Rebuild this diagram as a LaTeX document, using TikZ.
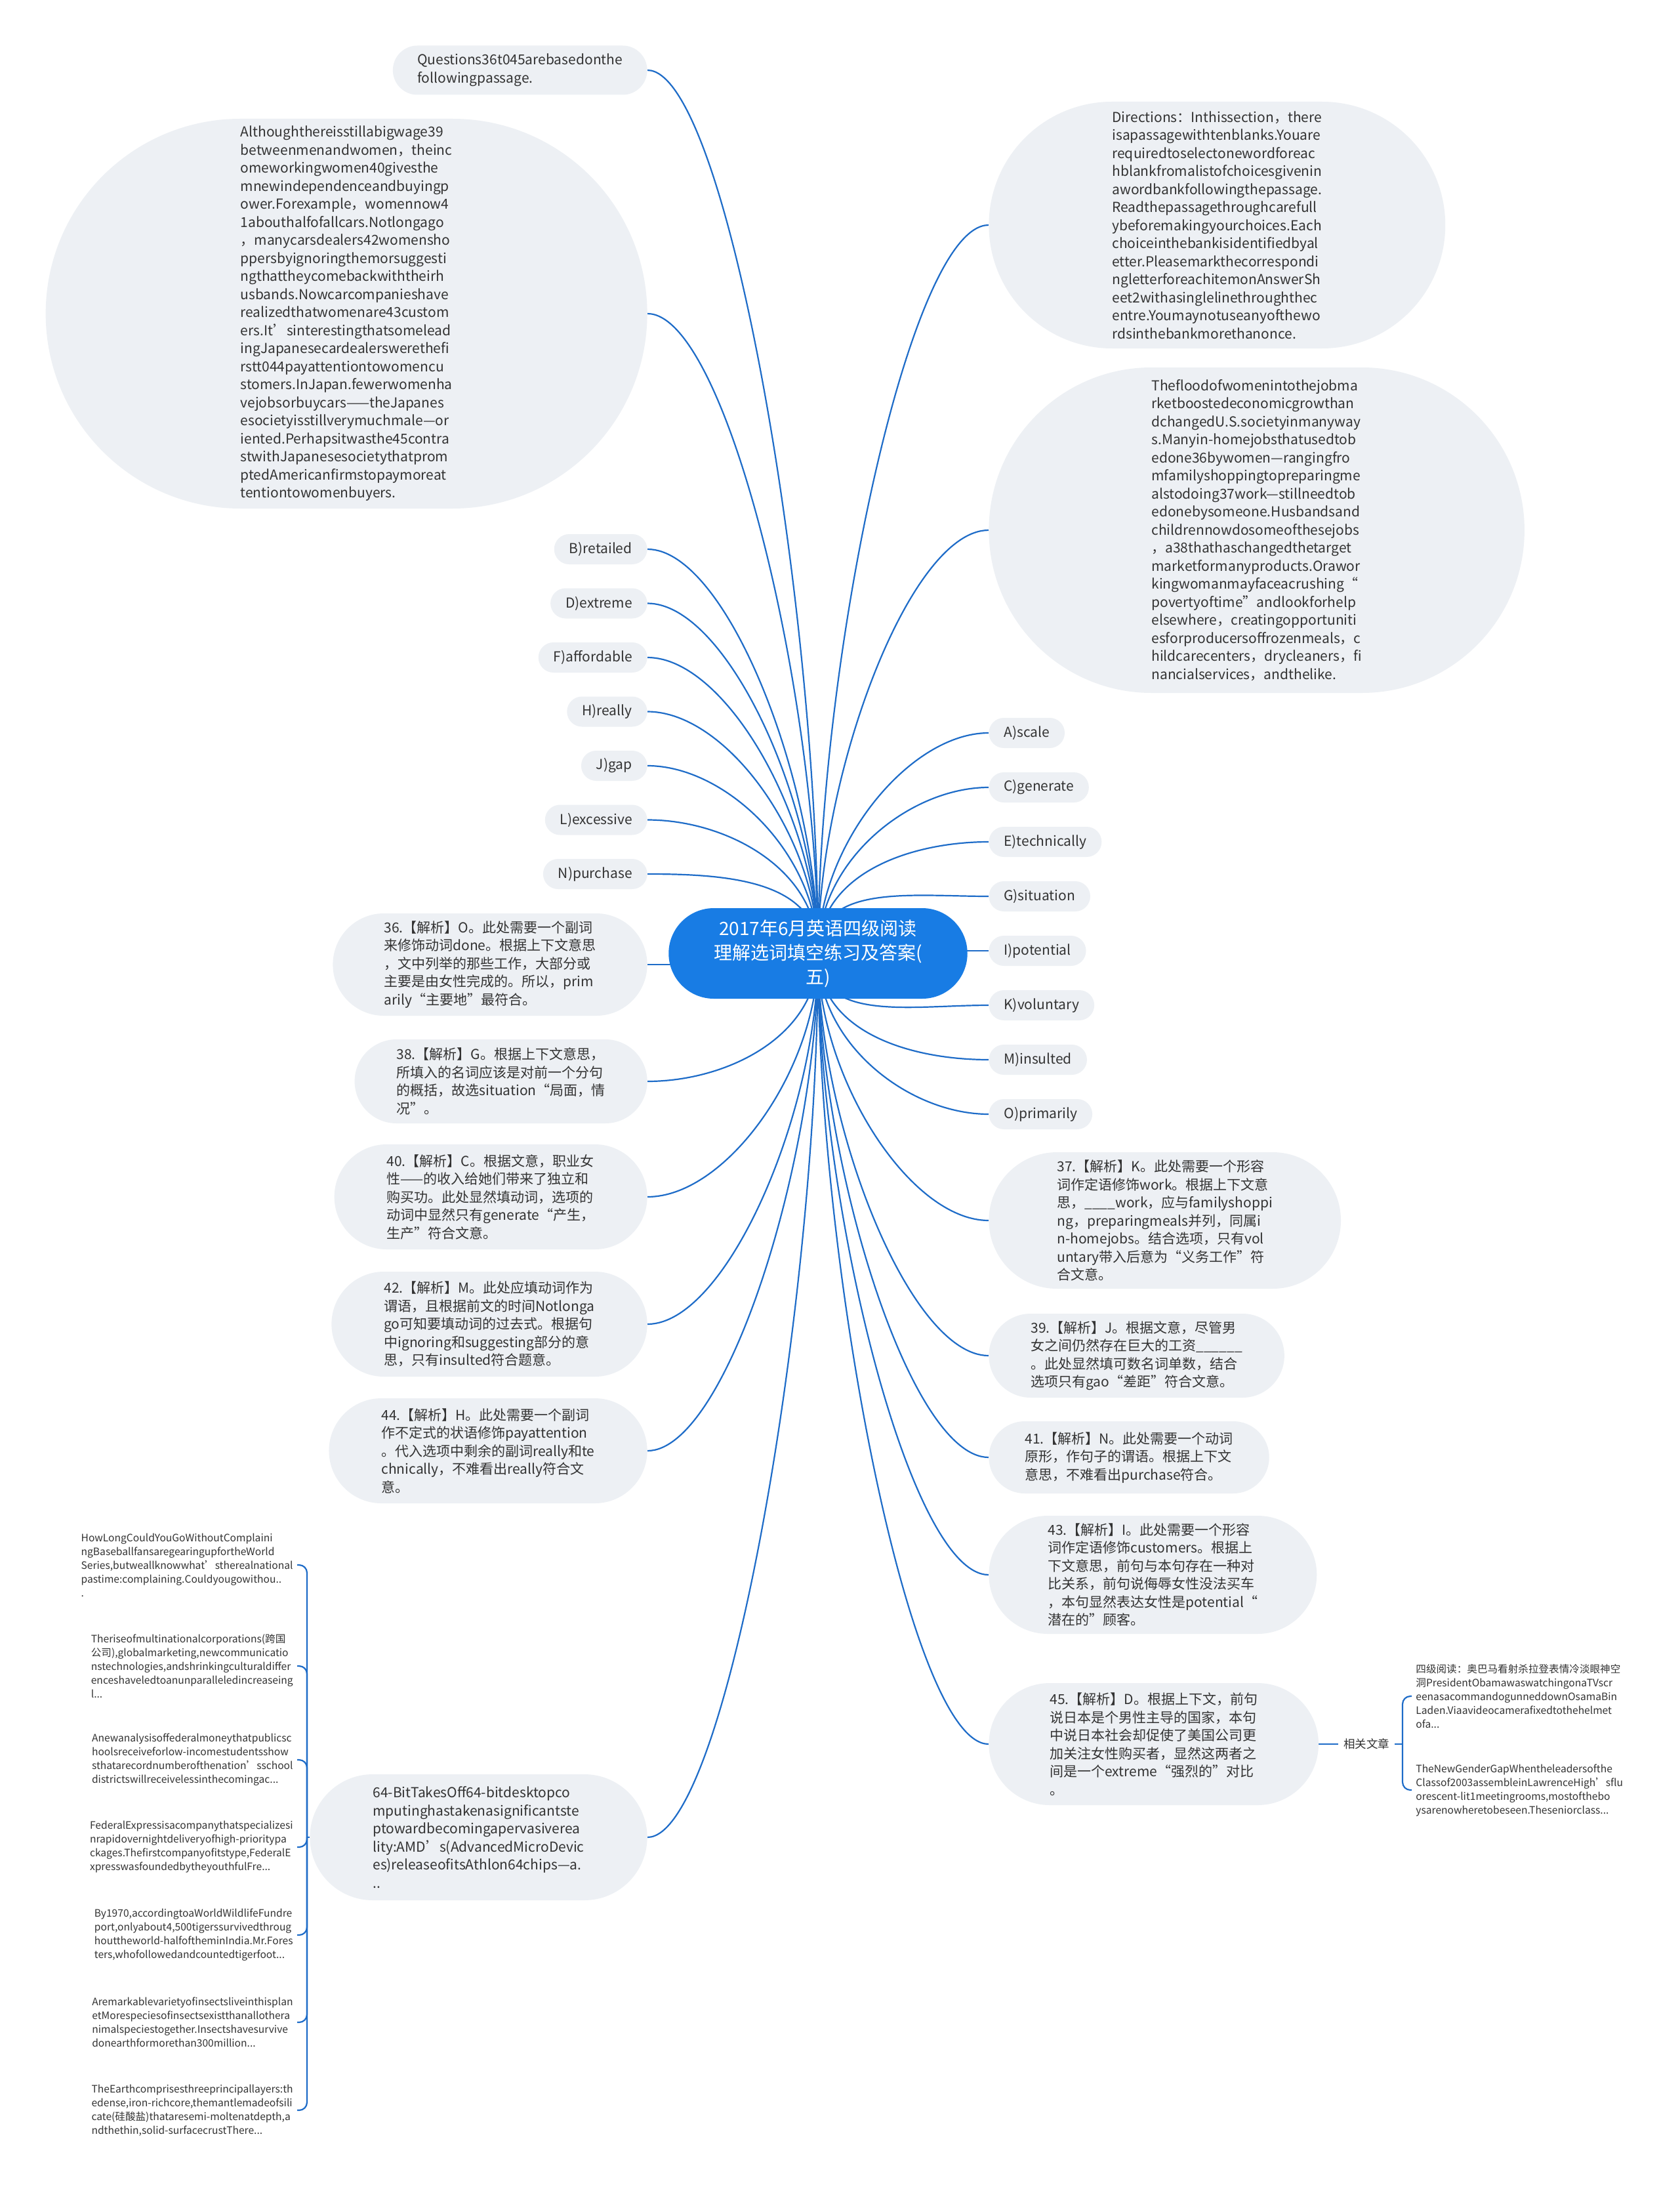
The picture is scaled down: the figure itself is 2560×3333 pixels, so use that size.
\documentclass[tikz,border=0pt]{standalone}
\usepackage{fontspec}
\setmainfont{Noto Sans CJK SC}
\definecolor{rootblue}{RGB}{24,124,228}
\definecolor{linkblue}{RGB}{30,108,200}
\definecolor{topicgray}{RGB}{237,240,244}
\definecolor{inkgray}{RGB}{51,51,51}
\pgfdeclarelayer{bg}
\pgfsetlayers{bg,main}

\begin{document}
\begin{tikzpicture}[x=0.5pt, y=-0.5pt,
    topic/.style={rectangle, fill=topicgray, text=inkgray, align=left,
      rounded corners=#1, inner xsep=#1, inner ysep=3pt, minimum height=2*#1,
      font=\fontsize{10.5}{13.75}\selectfont},
    rootnode/.style={rectangle, fill=rootblue, text=white, align=center,
      rounded corners=34.5pt, inner xsep=34.5pt, inner ysep=3pt, minimum height=69pt,
      font=\fontsize{14}{18.5}\selectfont},
    article/.style={align=left, text=inkgray, inner xsep=3pt, inner ysep=0pt,
      font=\fontsize{7.8}{10.5}\selectfont},
    link/.style={draw=linkblue, line width=1.1pt},
    hook/.style={link, rounded corners=6pt}]

  \begin{pgfonlayer}{bg}
    \fill[white] (0,0) rectangle (2560,3333);
  \end{pgfonlayer}
  \useasboundingbox (0,0) rectangle (2560,3333);

  % centre
  \node[rootnode] (root) at (1247,1453) {2017年6月英语四级阅读\\理解选词填空练习及答案(\\五)};

  % left side
  \node[topic=18.75pt, anchor=east] (qst) at (987,107) {Questions36t045arebasedonthe\\followingpassage.};
  \node[topic=148.5pt, anchor=east] (alth) at (987,478) {Althoughthereisstillabigwage39\\betweenmenandwomen，theinc\\omeworkingwomen40givesthe\\mnewindependenceandbuyingp\\ower.Forexample，womennow4\\1abouthalfofallcars.Notlongago\\，manycarsdealers42womensho\\ppersbyignoringthemorsuggesti\\ngthattheycomebackwiththeirh\\usbands.Nowcarcompanieshave\\realizedthatwomenare43custom\\ers.It’sinterestingthatsomelead\\ingJapanesecardealerswerethefi\\rstt044payattentiontowomencu\\stomers.InJapan.fewerwomenha\\vejobsorbuycars——theJapanes\\esocietyisstillverymuchmale—or\\iented.Perhapsitwasthe45contra\\stwithJapanesesocietythatprom\\ptedAmericanfirmstopaymoreat\\tentiontowomenbuyers.};
  \foreach \n/\t [count=\i] in {B/retailed, D/extreme, F/affordable, H/really, J/gap, L/excessive, N/purchase}
    \node[topic=11.5pt, anchor=east] (w\n) at (987,{837+82.5*(\i-1)}) {\n)\t};

  \node[topic=39pt, anchor=east] (a36) at (987,1470) {36.【解析】O。此处需要一个副词\\来修饰动词done。根据上下文意思\\，文中列举的那些工作，大部分或\\主要是由女性完成的。所以，prim\\arily“主要地”最符合。};
  \node[topic=32pt, anchor=east] (a38) at (987,1648) {38.【解析】G。根据上下文意思，\\所填入的名词应该是对前一个分句\\的概括，故选situation“局面，情\\况”。};
  \node[topic=40pt, anchor=east] (a40) at (987,1824) {40.【解析】C。根据文意，职业女\\性——的收入给她们带来了独立和\\购买功。此处显然填动词，选项的\\动词中显然只有generate“产生，\\生产”符合文意。};
  \node[topic=40pt, anchor=east] (a42) at (987,2018) {42.【解析】M。此处应填动词作为\\谓语，且根据前文的时间Notlonga\\go可知要填动词的过去式。根据句\\中ignoring和suggesting部分的意\\思，只有insulted符合题意。};
  \node[topic=40pt, anchor=east] (a44) at (987,2211) {44.【解析】H。此处需要一个副词\\作不定式的状语修饰payattention\\。代入选项中剩余的副词really和te\\chnically，不难看出really符合文\\意。};
  \node[topic=48pt, anchor=east] (bit64) at (987,2800) {64-BitTakesOff64-bitdesktopco\\mputinghastakenasignificantste\\ptowardbecomingapervasiverea\\lity:AMD's(AdvancedMicroDevic\\es)releaseofitsAthlon64chips—a.\\..};

  % related articles, bottom left
  \coordinate (hubL) at (468,2800);
  \node[article, anchor=east] (artA) at (453,2385) {HowLongCouldYouGoWithoutComplaini\\ngBaseballfansaregearingupfortheWorld\\Series,butweallknowwhat'stherealnational\\pastime:complaining.Couldyougowithou..\\.};
  \node[article, anchor=east] (artB) at (453,2539) {Theriseofmultinationalcorporations(跨国\\公司),globalmarketing,newcommunicatio\\nstechnologies,andshrinkingculturaldiffer\\enceshaveledtoanunparalleledincreaseing\\l...};
  \node[article, anchor=east] (artC) at (453,2682) {Anewanalysisoffederalmoneythatpublicsc\\hoolsreceiveforlow-incomestudentsshow\\sthatarecordnumberofthenation’sschool\\districtswillreceivelessinthecomingac...};
  \node[article, anchor=east] (artD) at (453,2815) {FederalExpressisacompanythatspecializesi\\nrapidovernightdeliveryofhigh-prioritypa\\ckages.Thefirstcompanyofitstype,FederalE\\xpresswasfoundedbytheyouthfulFre...};
  \node[article, anchor=east] (artE) at (453,2949) {By1970,accordingtoaWorldWildlifeFundre\\port,onlyabout4,500tigerssurvivedthroug\\houttheworld-halfoftheminIndia.Mr.Fores\\ters,whofollowedandcountedtigerfoot...};
  \node[article, anchor=east] (artF) at (453,3082) {Aremarkablevarietyofinsectsliveinthisplan\\etMorespeciesofinsectsexistthanallothera\\nimalspeciestogether.Insectshavesurvive\\donearthformorethan300million...};
  \node[article, anchor=east] (artG) at (453,3216) {TheEarthcomprisesthreeprincipallayers:th\\edense,iron-richcore,themantlemadeofsili\\cate(硅酸盐)thataresemi-moltenatdepth,a\\ndthethin,solid-surfacecrustThere...};

  % right side
  \node[topic=94pt, anchor=west] (dir) at (1507,343) {Directions：Inthissection，there\\isapassagewithtenblanks.Youare\\requiredtoselectonewordforeac\\hblankfromalistofchoicesgivenin\\awordbankfollowingthepassage.\\Readthepassagethroughcarefull\\ybeforemakingyourchoices.Each\\choiceinthebankisidentifiedbyal\\etter.Pleasemarkthecorrespondi\\ngletterforeachitemonAnswerSh\\eet2withasinglelinethroughthec\\entre.Youmaynotuseanyofthewo\\rdsinthebankmorethanonce.};
  \node[topic=124pt, anchor=west] (flood) at (1507,808) {Thefloodofwomenintothejobma\\rketboostedeconomicgrowthan\\dchangedU.S.societyinmanyway\\s.Manyin-homejobsthatusedtob\\edone36bywomen—rangingfro\\mfamilyshoppingtopreparingme\\alstodoing37work—stillneedtob\\edonebysomeone.Husbandsand\\childrennowdosomeofthesejobs\\，a38thathaschangedthetarget\\marketformanyproducts.Orawor\\kingwomanmayfaceacrushing“\\povertyoftime”andlookforhelp\\elsewhere，creatingopportuniti\\esforproducersoffrozenmeals，c\\hildcarecenters，drycleaners，fi\\nancialservices，andthelike.};
  \foreach \n/\t [count=\i] in {A/scale, C/generate, E/technically, G/situation, I/potential, K/voluntary, M/insulted, O/primarily}
    \node[topic=11.5pt, anchor=west] (w\n) at (1507,{1117+83*(\i-1)}) {\n)\t};

  \node[topic=52pt, anchor=west] (a37) at (1507,1860) {37.【解析】K。此处需要一个形容\\词作定语修饰work。根据上下文意\\思，\_\_\_\_work，应与familyshoppi\\ng，preparingmeals并列，同属i\\n-homejobs。结合选项，只有vol\\untary带入后意为“义务工作”符\\合文意。};
  \node[topic=32pt, anchor=west] (a39) at (1507,2066) {39.【解析】J。根据文意，尽管男\\女之间仍然存在巨大的工资\_\_\_\_\_\_\\。此处显然填可数名词单数，结合\\选项只有gao“差距”符合文意。};
  \node[topic=27.5pt, anchor=west] (a41) at (1507,2221) {41.【解析】N。此处需要一个动词\\原形，作句子的谓语。根据上下文\\意思，不难看出purchase符合。};
  \node[topic=45pt, anchor=west] (a43) at (1507,2400) {43.【解析】I。此处需要一个形容\\词作定语修饰customers。根据上\\下文意思，前句与本句存在一种对\\比关系，前句说侮辱女性没法买车\\，本句显然表达女性是potential“\\潜在的”顾客。};
  \node[topic=46.5pt, anchor=west] (a45) at (1507,2658) {45.【解析】D。根据上下文，前句\\说日本是个男性主导的国家，本句\\中说日本社会却促使了美国公司更\\加关注女性购买者，显然这两者之\\间是一个extreme“强烈的”对比\\。};

  % related articles, right
  \node[article, inner xsep=4pt, font=\fontsize{8.75}{10.5}\selectfont] (rel) at (2083,2658) {相关文章};
  \coordinate (hubR) at (2138,2658);
  \node[article, anchor=west] (artR1) at (2152,2585) {四级阅读：奥巴马看射杀拉登表情冷淡眼神空\\洞PresidentObamawaswatchingonaTVscr\\eenasacommandogunneddownOsamaBin\\Laden.Viaavideocamerafixedtothehelmet\\ofa...};
  \node[article, anchor=west] (artR2) at (2152,2728) {TheNewGenderGapWhentheleadersofthe\\Classof2003assembleinLawrenceHigh'sflu\\orescent-lit1meetingrooms,mostofthebo\\ysarenowheretobeseen.Theseniorclass...};

  \begin{pgfonlayer}{bg}
    \foreach \c in {qst,alth,wB,wD,wF,wH,wJ,wL,wN}
      \draw[link] (root.center) to[out=90,in=0,in distance=60pt] (\c.east);
    \foreach \c in {a38,a40,a42,a44,bit64}
      \draw[link] (root.center) to[out=-90,in=0,in distance=60pt] (\c.east);
    \draw[link] (a36.east) -- (a36.east -| root.center);
    \foreach \c in {dir,flood,wA,wC,wE,wG}
      \draw[link] (root.center) to[out=90,in=180,in distance=60pt] (\c.west);
    \draw[link] (root.center |- wI.west) -- (wI.west);
    \foreach \c in {wK,wM,wO,a37,a39,a41,a43,a45}
      \draw[link] (root.center) to[out=-90,in=180,in distance=60pt] (\c.west);

    \draw[link] (bit64.west) -- (hubL);
    \foreach \c in {artA,artB,artC,artD,artE,artF,artG}
      \draw[hook] (hubL) |- (\c.east);
    \draw[link] (a45.east) -- (rel.west);
    \draw[link] (rel.east) -- (hubR);
    \foreach \c in {artR1,artR2}
      \draw[hook] (hubR) |- (\c.west);
  \end{pgfonlayer}
\end{tikzpicture}
\end{document}
